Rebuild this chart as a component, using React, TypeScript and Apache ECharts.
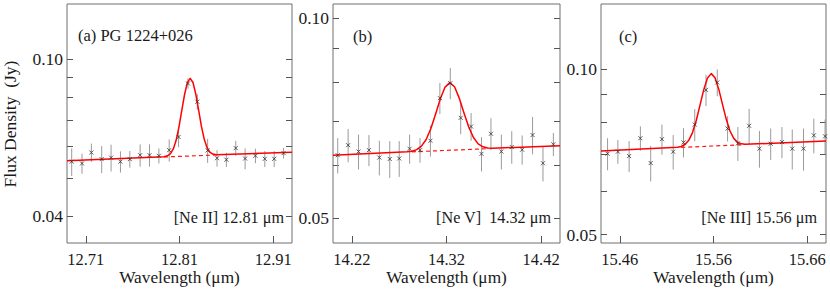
import React, { useEffect, useRef } from "react";
import * as echarts from "echarts";

// ---------- Panel (a) [Ne II] 12.81 um ----------
const wavelengthA = [12.695, 12.706, 12.716, 12.727, 12.737, 12.747, 12.757, 12.768, 12.778, 12.788, 12.799, 12.809, 12.819, 12.829, 12.84, 12.85, 12.86, 12.87, 12.88, 12.891, 12.901, 12.911, 12.921];
const fluxA = [0.055, 0.0544, 0.058, 0.0558, 0.0563, 0.055, 0.0558, 0.0571, 0.0571, 0.0569, 0.0588, 0.0635, 0.0868, 0.078, 0.0587, 0.0561, 0.0556, 0.0595, 0.056, 0.0569, 0.0559, 0.0559, 0.0578];
const errA = [0.0044, 0.0032, 0.0031, 0.0044, 0.0044, 0.0034, 0.0027, 0.0037, 0.0037, 0.0025, 0.0038, 0.0037, 0.0026, 0.0035, 0.0041, 0.0027, 0.0023, 0.0026, 0.0034, 0.0024, 0.0026, 0.0026, 0.0018];
const fitWaveA = [12.69, 12.7934, 12.7974, 12.8004, 12.8034, 12.8064, 12.8094, 12.8124, 12.8154, 12.8184, 12.8214, 12.8244, 12.8274, 12.8304, 12.8334, 12.8364, 12.8394, 12.8424, 12.8454, 12.8494, 12.93];
const fitFluxA = [0.0553, 0.05657, 0.05691, 0.05762, 0.05921, 0.06227, 0.06727, 0.07403, 0.08137, 0.08718, 0.08943, 0.08726, 0.08151, 0.07425, 0.06755, 0.06263, 0.05963, 0.05812, 0.05747, 0.05723, 0.0581];
const contWaveA = [12.7934, 12.8494];
const contFluxA = [0.05651, 0.05716];
const xTicksA = [12.71, 12.81, 12.91];
const yLabelsA = [0.04, 0.1];
const yTicksA = [0.04, 0.05, 0.06, 0.07, 0.08, 0.09, 0.1];

// ---------- Panel (b) [Ne V] 14.32 um ----------
const wavelengthB = [14.205, 14.216, 14.227, 14.238, 14.249, 14.26, 14.27, 14.281, 14.292, 14.303, 14.313, 14.324, 14.335, 14.346, 14.357, 14.367, 14.378, 14.389, 14.4, 14.411, 14.422, 14.433];
const fluxB = [0.0622, 0.0644, 0.063, 0.0633, 0.0617, 0.0614, 0.0615, 0.0636, 0.0633, 0.0654, 0.0758, 0.0798, 0.0708, 0.0687, 0.0625, 0.067, 0.063, 0.064, 0.0634, 0.0667, 0.0605, 0.0646];
const errB = [0.0038, 0.0037, 0.0038, 0.0034, 0.0037, 0.0039, 0.0038, 0.0032, 0.0027, 0.0035, 0.0041, 0.0043, 0.0039, 0.0033, 0.0037, 0.0037, 0.0038, 0.0036, 0.0032, 0.0043, 0.0037, 0.0026];
const fitWaveB = [14.2, 14.2785, 14.2835, 14.2885, 14.2935, 14.2985, 14.3035, 14.3085, 14.3135, 14.3185, 14.3235, 14.3285, 14.3335, 14.3385, 14.3435, 14.3485, 14.3535, 14.3585, 14.3635, 14.3685, 14.44];
const fitFluxB = [0.0622, 0.06293, 0.06308, 0.06342, 0.06418, 0.06569, 0.06822, 0.07173, 0.07561, 0.07875, 0.07998, 0.07883, 0.07579, 0.07199, 0.06858, 0.06613, 0.0647, 0.06404, 0.06378, 0.06371, 0.0643];
const contWaveB = [14.2835, 14.3635];
const contFluxB = [0.06293, 0.06363];
const xTicksB = [14.22, 14.32, 14.42];
const yLabelsB = [0.05, 0.1];
const yTicksB = [0.05, 0.06, 0.07, 0.08, 0.09, 0.1];

// ---------- Panel (c) [Ne III] 15.56 um ----------
const wavelengthC = [15.447, 15.458, 15.47, 15.482, 15.493, 15.505, 15.517, 15.528, 15.54, 15.552, 15.564, 15.575, 15.586, 15.598, 15.609, 15.621, 15.633, 15.644, 15.656, 15.667, 15.679];
const fluxC = [0.0702, 0.0708, 0.0695, 0.0749, 0.0675, 0.0746, 0.0708, 0.0736, 0.0793, 0.0917, 0.0946, 0.078, 0.0733, 0.0789, 0.0717, 0.0732, 0.0737, 0.0717, 0.0717, 0.0758, 0.0755];
const errC = [0.0047, 0.0035, 0.0045, 0.0038, 0.005, 0.0047, 0.0051, 0.0045, 0.0053, 0.006, 0.0053, 0.0041, 0.0052, 0.0058, 0.0055, 0.0048, 0.0048, 0.006, 0.0063, 0.0055, 0.0055];
const fitWaveC = [15.44, 15.5216, 15.5256, 15.5296, 15.5336, 15.5376, 15.5416, 15.5456, 15.5496, 15.5536, 15.5576, 15.5616, 15.5656, 15.5696, 15.5736, 15.5776, 15.5816, 15.5856, 15.5896, 15.5936, 15.68];
const fitFluxC = [0.071, 0.07211, 0.07236, 0.07296, 0.07425, 0.0767, 0.08067, 0.08602, 0.0918, 0.09639, 0.09817, 0.09649, 0.092, 0.08632, 0.08107, 0.0772, 0.07485, 0.07366, 0.07316, 0.07301, 0.074];
const contWaveC = [15.5256, 15.5896];
const contFluxC = [0.07207, 0.07287];
const xTicksC = [15.46, 15.56, 15.66];
const yLabelsC = [0.05, 0.1];
const yTicksC = [0.05, 0.06, 0.07, 0.08, 0.09, 0.1];

const panelTitles = ["(a) PG 1224+026", "(b)", "(c)"];
const lineLabels = ["[Ne II] 12.81 μm", "[Ne V]  14.32 μm", "[Ne III] 15.56 μm"];
const xName = "Wavelength (μm)";
const yName = "Flux Density  (Jy)";

const FONT = "'Liberation Serif', 'Times New Roman', serif";
const TEXT = "#1a1a1a";
const FRAME = "#6e6e6e";
const TICK = "#555";

type Panel = {
  wave: number[]; flux: number[]; err: number[];
  fitW: number[]; fitF: number[]; contW: number[]; contF: number[];
  xTicks: number[]; yLabels: number[]; yTicks: number[];
  xMin: number; xMax: number; yMin: number; yMax: number;
  left: number; width: number;
};

const panels: Panel[] = [
  { wave: wavelengthA, flux: fluxA, err: errA, fitW: fitWaveA, fitF: fitFluxA, contW: contWaveA, contF: contFluxA,
    xTicks: xTicksA, yLabels: yLabelsA, yTicks: yTicksA, xMin: 12.69, xMax: 12.93, yMin: 0.0342, yMax: 0.138, left: 67, width: 225 },
  { wave: wavelengthB, flux: fluxB, err: errB, fitW: fitWaveB, fitF: fitFluxB, contW: contWaveB, contF: contFluxB,
    xTicks: xTicksB, yLabels: yLabelsB, yTicks: yTicksB, xMin: 14.2, xMax: 14.44, yMin: 0.0459, yMax: 0.105, left: 333, width: 227 },
  { wave: wavelengthC, flux: fluxC, err: errC, fitW: fitWaveC, fitF: fitFluxC, contW: contWaveC, contF: contFluxC,
    xTicks: xTicksC, yLabels: yLabelsC, yTicks: yTicksC, xMin: 15.44, xMax: 15.68, yMin: 0.0483, yMax: 0.1314, left: 601, width: 225 },
];

const TOP = 4;
const HEIGHT = 239;

function buildOption() {
  const grid: any[] = [];
  const xAxis: any[] = [];
  const yAxis: any[] = [];
  const series: any[] = [];
  const graphic: any[] = [];

  panels.forEach((p, i) => {
    grid.push({ left: p.left, top: TOP, width: p.width, height: HEIGHT, show: true, borderColor: FRAME, borderWidth: 1, containLabel: false });
    xAxis.push({
      type: "value", gridIndex: i, min: p.xMin, max: p.xMax, position: "bottom",
      axisLine: { show: false },
      splitLine: { show: false },
      axisTick: { show: true, inside: true, length: 7, customValues: p.xTicks, lineStyle: { color: TICK, width: 1 } },
      axisLabel: { customValues: p.xTicks, formatter: (v: number) => v.toFixed(2), fontSize: 16.5, fontFamily: FONT, color: TEXT, margin: 8 },
    });
    const yBase = {
      type: "log", logBase: 10, gridIndex: i, min: p.yMin, max: p.yMax,
      axisLine: { show: false }, splitLine: { show: false },
      axisTick: { show: true, inside: true, length: 6, customValues: p.yTicks, lineStyle: { color: TICK, width: 1 } },
    };
    yAxis.push({
      ...yBase, position: "left",
      axisLabel: { customValues: p.yLabels, formatter: (v: number) => v.toFixed(2), fontSize: 17.5, fontFamily: FONT, color: TEXT, margin: 4 },
    });
    yAxis.push({ ...yBase, position: "right", axisLabel: { show: false } });
    const yi = i * 2;

    series.push({
      type: "custom", xAxisIndex: i, yAxisIndex: yi, z: 2, clip: true,
      data: p.wave.map((w, k) => [w, p.flux[k], p.err[k]]),
      encode: { x: 0, y: 1 },
      renderItem: (_params: any, api: any) => {
        const x = api.value(0), y = api.value(1), e = api.value(2);
        const a = api.coord([x, y + e]);
        const b = api.coord([x, y - e]);
        return { type: "line", shape: { x1: a[0], y1: a[1], x2: b[0], y2: b[1] }, style: { stroke: "#9a9a9a", lineWidth: 1 } };
      },
    });
    series.push({
      type: "line", xAxisIndex: i, yAxisIndex: yi, z: 3, showSymbol: false, symbol: "none",
      data: p.contW.map((w, k) => [w, p.contF[k]]),
      lineStyle: { color: "#ff1a1a", width: 1.2, type: [4, 3] },
    });
    series.push({
      type: "line", xAxisIndex: i, yAxisIndex: yi, z: 4, showSymbol: false, symbol: "none",
      data: p.fitW.map((w, k) => [w, p.fitF[k]]),
      lineStyle: { color: "#ff0000", width: 1.5, join: "round" },
    });
    series.push({
      type: "scatter", xAxisIndex: i, yAxisIndex: yi, z: 5,
      symbol: "path://M0 0L10 10M10 0L0 10", symbolSize: 4,
      itemStyle: { color: "none", borderColor: "#333", borderWidth: 1 },
      data: p.wave.map((w, k) => [w, p.flux[k]]),
    });

    graphic.push({ type: "text", x: p.left + p.width / 2, y: 277,
      style: { text: xName, fontSize: 17.3, fontFamily: FONT, fill: TEXT, textAlign: "center", textVerticalAlign: "middle" } });
  });

  const titlePos = [[78, 35], [353, 36], [619, 36]];
  panelTitles.forEach((t, i) => {
    graphic.push({ type: "text", x: titlePos[i][0], y: titlePos[i][1],
      style: { text: t, fontSize: 16.5, fontFamily: FONT, fill: TEXT, textAlign: "left", textVerticalAlign: "middle" } });
  });
  const labelPos = [[284, 218], [551, 218], [817, 218]];
  lineLabels.forEach((t, i) => {
    graphic.push({ type: "text", x: labelPos[i][0], y: labelPos[i][1],
      style: { text: t, fontSize: 16.2, fontFamily: FONT, fill: TEXT, textAlign: "right", textVerticalAlign: "middle" } });
  });
  graphic.push({ type: "text", x: 10, y: 124, rotation: Math.PI / 2,
    style: { text: yName, fontSize: 17.5, fontFamily: FONT, fill: TEXT, textAlign: "center", textVerticalAlign: "middle" } });

  return { animation: false, backgroundColor: "#ffffff", grid, xAxis, yAxis, series, graphic };
}

export default function App() {
  const ref = useRef<HTMLDivElement>(null);
  useEffect(() => {
    if (!ref.current) return;
    const chart = echarts.init(ref.current, undefined, { renderer: "svg" });
    chart.setOption(buildOption() as any);
    return () => chart.dispose();
  }, []);
  return <div ref={ref} style={{ position: "fixed", left: 0, top: 0, width: 830, height: 292 }} />;
}
